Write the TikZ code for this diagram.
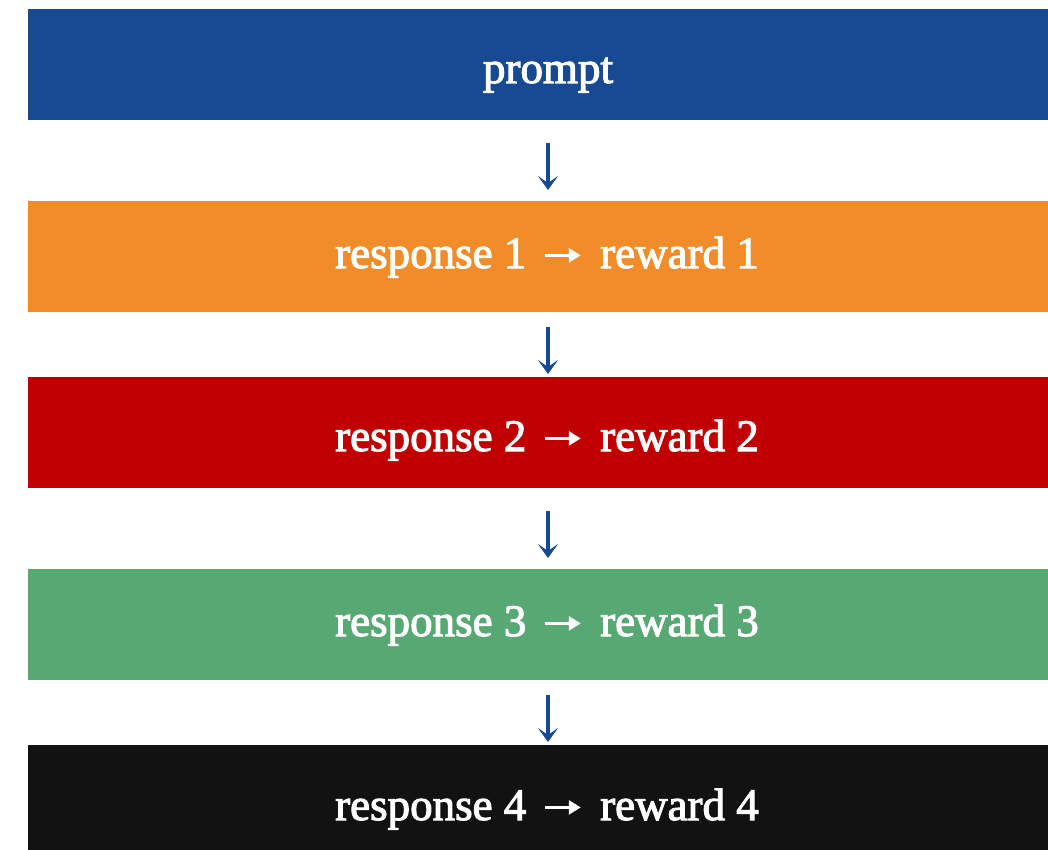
\documentclass[tikz,border=0pt]{standalone}
\usepackage{fontspec}
\setmainfont{Liberation Serif}
\newfontfamily\bandfont{Liberation Serif}[FakeBold=2.4]
\usetikzlibrary{arrows.meta}
\definecolor{promptblue}{RGB}{23,74,147}
\definecolor{resporange}{RGB}{240,141,42}
\definecolor{respred}{RGB}{192,0,0}
\definecolor{respgreen}{RGB}{88,168,115}
\definecolor{respblack}{RGB}{18,18,18}
% bold inline arrow used inside the captions
\newcommand\yieldsarrow{\hspace{17pt}\tikz[baseline=-0.28em]\draw[white, line width=2.8pt,
  -{Triangle[length=12pt, width=14pt]}] (0,0) -- (36pt,0);\hspace{18pt}}
\tikzset{
  band/.style={rectangle, fill=#1, draw=none, anchor=north west,
    minimum width=1040pt, minimum height=111pt, inner sep=0pt, outer sep=0pt},
  bandtext/.style={anchor=base, text=white, inner sep=0pt,
    font=\bandfont\fontsize{45}{50}\selectfont},
  flow/.style={draw=promptblue, line width=3.2pt,
    -{Stealth[length=14pt, width=20pt, inset=7pt]}},
}
\begin{document}
\begin{tikzpicture}[x=1pt, y=-1pt]
  \clip (0,0) rectangle (1048,850);
  \fill[white] (0,0) rectangle (1048,850);

  % stacked bands
  \node[band=promptblue] (p)  at (28,9)   {};
  \node[band=resporange] (r1) at (28,201) {};
  \node[band=respred]    (r2) at (28,377) {};
  \node[band=respgreen]  (r3) at (28,569) {};
  \node[band=respblack]  (r4) at (28,745) {};

  % band captions
  \node[bandtext] (tp)  at (548,83)  {prompt};
  \node[bandtext] (t1)  at (547,268) {response 1\yieldsarrow reward 1};
  \node[bandtext] (t2)  at (547,451) {response 2\yieldsarrow reward 2};
  \node[bandtext] (t3)  at (547,636) {response 3\yieldsarrow reward 3};
  \node[bandtext] (t4)  at (547,820) {response 4\yieldsarrow reward 4};

  % downward steps
  \draw[flow, shorten <=23pt, shorten >=11pt] (p.south -| tp)  -- (r1.north -| tp);
  \draw[flow, shorten <=15pt, shorten >=3pt]  (r1.south -| tp) -- (r2.north -| tp);
  \draw[flow, shorten <=23pt, shorten >=11pt] (r2.south -| tp) -- (r3.north -| tp);
  \draw[flow, shorten <=15pt, shorten >=3pt]  (r3.south -| tp) -- (r4.north -| tp);
\end{tikzpicture}
\end{document}
